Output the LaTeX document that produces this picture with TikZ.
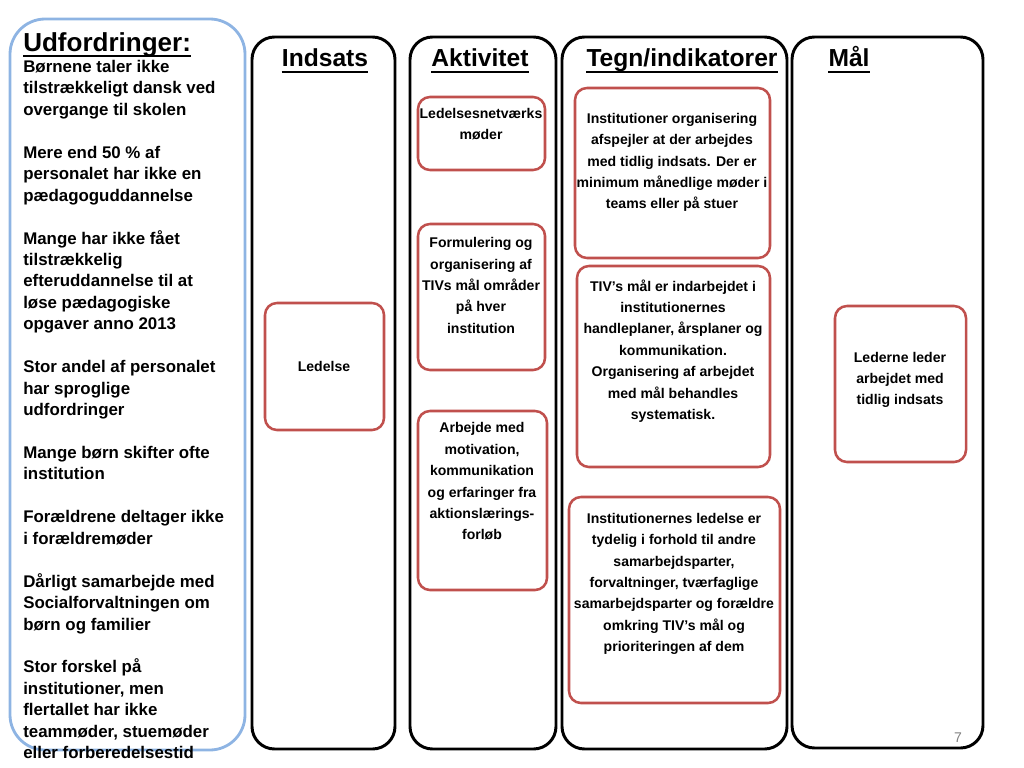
\documentclass[tikz,border=0pt]{standalone}
\usepackage{fontspec}
\setmainfont{Liberation Sans}
\definecolor{boxred}{HTML}{C0504D}
\definecolor{boxblue}{HTML}{8EB4E3}
\tikzset{
  colbox/.style={draw=black, line width=2.1pt, rounded corners=16pt},
  redbox/.style={draw=boxred, line width=1.8pt, rounded corners=8.5pt},
  boxtxt/.style={align=center, inner sep=0pt, font=\fontsize{10}{15.2}\selectfont\bfseries},
  colhead/.style={anchor=base, inner sep=0pt, font=\fontsize{17.5}{20}\selectfont\bfseries},
  headline/.style={line width=1.4pt}
}
\begin{document}
\begin{tikzpicture}[x=0.025cm, y=-0.025cm]
  \useasboundingbox (0,0) rectangle (1024,768);
  % challenges box
  \draw[draw=boxblue, line width=2pt, rounded corners=25pt] (10,19) rectangle (245,750);
  \node[anchor=base west, inner sep=0pt, font=\fontsize{18.5}{22}\selectfont\bfseries] (udf) at (23,52) {Udfordringer:};
  \draw[headline] ([yshift=-2.6pt]udf.base west) -- ([yshift=-2.6pt]udf.base east);
  \node[anchor=north west, align=left, inner sep=0pt, font=\fontsize{12}{15.25}\selectfont\bfseries] (udftxt) at (23,60) {%
    Børnene taler ikke\\ tilstrækkeligt dansk ved\\ overgange til skolen\\[15.25pt]
    Mere end 50 \% af\\ personalet har ikke en\\ pædagoguddannelse\\[15.25pt]
    Mange har ikke fået\\ tilstrækkelig\\ efteruddannelse til at\\ løse pædagogiske\\ opgaver anno 2013\\[15.25pt]
    Stor andel af personalet\\ har sproglige\\ udfordringer\\[15.25pt]
    Mange børn skifter ofte\\ institution\\[15.25pt]
    Forældrene deltager ikke\\ i forældremøder\\[15.25pt]
    Dårligt samarbejde med\\ Socialforvaltningen om\\ børn og familier\\[15.25pt]
    Stor forskel på\\ institutioner, men\\ flertallet har ikke\\ teammøder, stuemøder\\ eller forberedelsestid\\ m.v.};
  % columns
  \draw[colbox] (252,37) rectangle (395,749);
  \draw[colbox] (410,37) rectangle (556,749);
  \draw[colbox] (562,37) rectangle (787,749);
  \draw[colbox] (792,37) rectangle (983,748);
  \foreach \x/\t/\n in {325/Indsats/hd1, 480/Aktivitet/hd2, 682/Tegn\slash indikatorer/hd3, 849/Mål/hd4} {
    \node[colhead] (\n) at (\x,67) {\t};
    \draw[headline] ([yshift=-3.4pt]\n.base west) -- ([yshift=-3.4pt]\n.base east);
  }
  % Indsats
  \draw[redbox] (265,303) rectangle (384,430);
  \node[boxtxt] (ledelse) at (324,366) {Ledelse};
  % Aktivitet
  \draw[redbox] (418,97) rectangle (545,170);
  \node[boxtxt] (akt1) at (481,124) {Ledelsesnetværks\\ møder};
  \draw[redbox] (418,224) rectangle (545,370);
  \node[boxtxt] (akt2) at (481,285.5) {Formulering og\\ organisering af\\ TIVs mål områder\\ på hver\\ institution};
  \draw[redbox] (418,411) rectangle (547,590);
  \node[boxtxt] (akt3) at (482,481.5) {Arbejde med\\ motivation,\\ kommunikation\\ og erfaringer fra\\ aktionslærings-\\ forløb};
  % Tegn/indikatorer
  \draw[redbox] (575,88) rectangle (770,258);
  \node[boxtxt] (tegn1) at (672,162.5) {Institutioner organisering\\ afspejler at der arbejdes\\ med tidlig indsats. Der er\\ minimum månedlige møder i\\ teams eller på stuer};
  \draw[redbox] (577,266) rectangle (770,467);
  \node[boxtxt] (tegn2) at (673,351) {TIV’s mål er indarbejdet i\\ institutionernes\\ handleplaner, årsplaner og\\ kommunikation.\\ Organisering af arbejdet\\ med mål behandles\\ systematisk.};
  \draw[redbox] (569,497) rectangle (780,703);
  \node[boxtxt] (tegn3) at (674,584) {Institutionernes ledelse er\\ tydelig i forhold til andre\\ samarbejdsparter,\\ forvaltninger, tværfaglige\\ samarbejdsparter og forældre\\ omkring TIV’s mål og\\ prioriteringen af dem};
  % Mål
  \draw[redbox] (835,306) rectangle (966,462);
  \node[boxtxt] (maal) at (900,380) {Lederne leder\\ arbejdet med\\ tidlig indsats};
  % page number
  \node[text=gray, font=\fontsize{10}{12}\selectfont] (pnum) at (958,738) {7};
\end{tikzpicture}
\end{document}
